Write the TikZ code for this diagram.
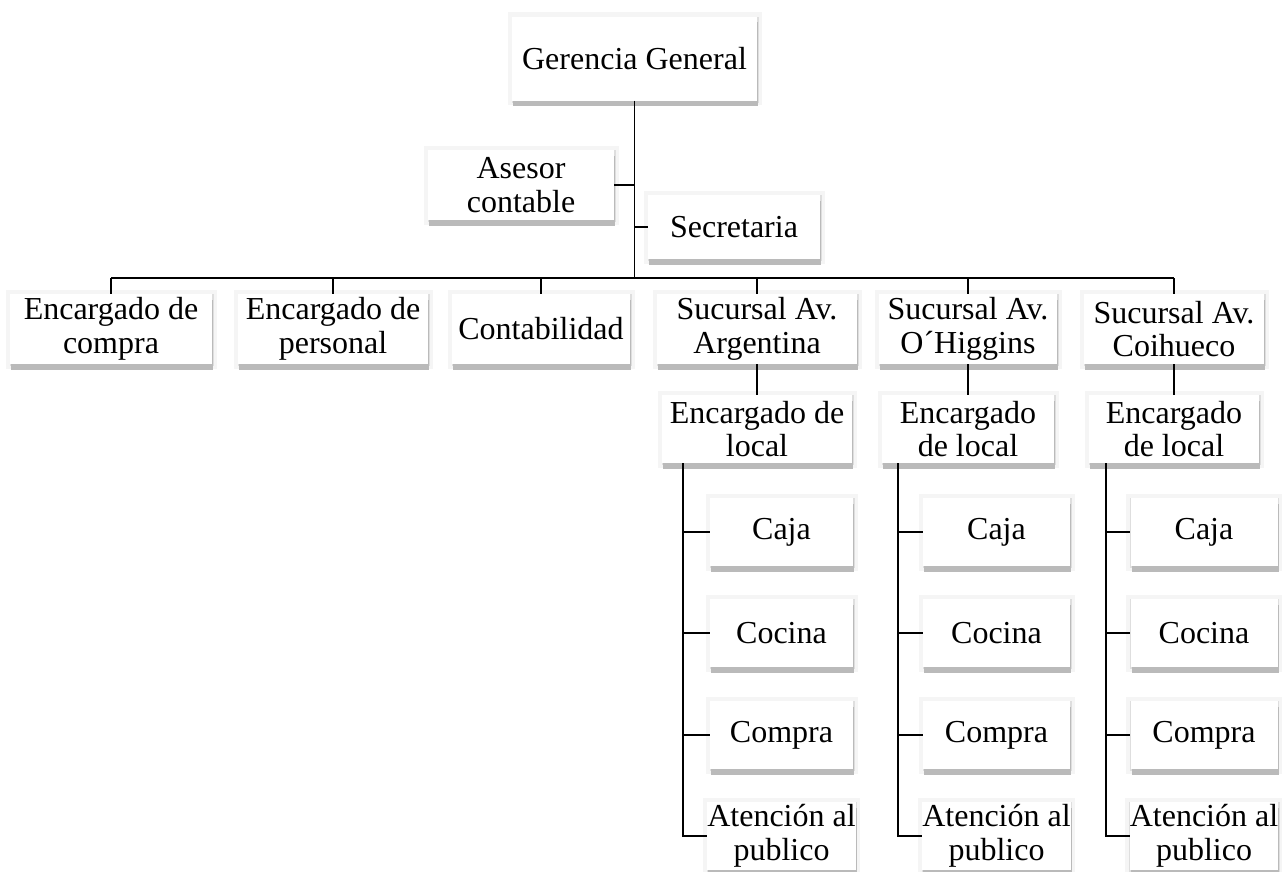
\documentclass[tikz,border=0pt]{standalone}
\usepackage{fontspec}
\setmainfont{Liberation Serif}
\usetikzlibrary{shadows}
\begin{document}
\begin{tikzpicture}[x=1pt,y=-1pt,
  orgbox/.style={fill=white, inner sep=0pt, align=center,
    font=\fontsize{32}{33.5}\selectfont,
    general shadow={fill=black!4, draw=black!4, line width=9pt},
    general shadow={fill=black!13, draw=black!13, line width=2pt, shadow xshift=0.5pt, shadow yshift=-1pt},
    general shadow={fill=black!27, shadow xshift=1pt, shadow yshift=-5.5pt}},
  link/.style={draw=black, line width=1.9pt}]
\useasboundingbox (0,0) rectangle (1282,871);
\fill[white] (0,0) rectangle (1282,871);

% top management and staff
\node[orgbox, minimum width=245pt, minimum height=84pt] (gg) at (634.5,58.5) {Gerencia General};
\node[orgbox, minimum width=186pt, minimum height=70pt] (ac) at (521,185) {Asesor\\contable};
\node[orgbox, minimum width=172pt, minimum height=64pt] (sec) at (734,227) {Secretaria};

% departments and branches
\tikzset{rowtwo/.style={orgbox, minimum height=70pt}}
\node[rowtwo, minimum width=202pt] (ec) at (111,329) {Encargado de\\compra};
\node[rowtwo, minimum width=190pt] (ep) at (333,329) {Encargado de\\personal};
\node[rowtwo, minimum width=178pt] (cont) at (541,329) {Contabilidad};
\node[rowtwo, minimum width=200pt] (sa) at (757,329) {Sucursal Av.\\Argentina};
\node[rowtwo, minimum width=178pt] (so) at (968,329) {Sucursal Av.\\O´Higgins};
\node[rowtwo, minimum width=180pt] (sc) at (1174,329) {Sucursal Av.\\Coihueco};

% branch managers
\tikzset{rowthree/.style={orgbox, minimum height=68pt}}
\node[rowthree, minimum width=190pt] (la) at (757,429) {Encargado de\\local};
\node[rowthree, minimum width=172pt] (lo) at (968,429) {Encargado\\de local};
\node[rowthree, minimum width=170pt] (lc) at (1174,429) {Encargado\\de local};

% branch staff
\tikzset{staff/.style={orgbox, minimum height=68pt}}
\foreach \b/\cx/\w in {a/781.5/143, o/996.5/147, c/1204/147}{
  \node[staff, minimum width=\w pt] (\b1) at (\cx,532) {Caja};
  \node[staff, minimum width=\w pt] (\b2) at (\cx,633) {Cocina};
  \node[staff, minimum width=\w pt] (\b3) at (\cx,735) {Compra};
  \node[staff, minimum width=\w pt] (\b4) at (\cx,836) {Atención al\\publico};
}

% connectors
\coordinate (bar) at (0,278);
\draw[link] (gg.south) -- (gg.south |- bar);
\draw[link] (ac.east) -- (ac.east -| gg.south);
\draw[link] (sec.west) -- (sec.west -| gg.south);
\draw[link] (ec.north |- bar) -- (sc.north |- bar);
\foreach \n in {ec,ep,cont,sa,so,sc}
  \draw[link] (\n.north |- bar) -- (\n.north);
\draw[link] (sa.south) -- (la.north);
\draw[link] (so.south) -- (lo.north);
\draw[link] (sc.south) -- (lc.north);

\coordinate (ta) at ([xshift=21pt]la.south west);
\coordinate (to) at ([xshift=16pt]lo.south west);
\coordinate (tc) at ([xshift=17pt]lc.south west);
\foreach \t/\b in {ta/a, to/o, tc/c}{
  \draw[link] (\t) |- (\b4.west);
  \draw[link] (\t |- \b1.west) -- (\b1.west);
  \draw[link] (\t |- \b2.west) -- (\b2.west);
  \draw[link] (\t |- \b3.west) -- (\b3.west);
}
\end{tikzpicture}
\end{document}
